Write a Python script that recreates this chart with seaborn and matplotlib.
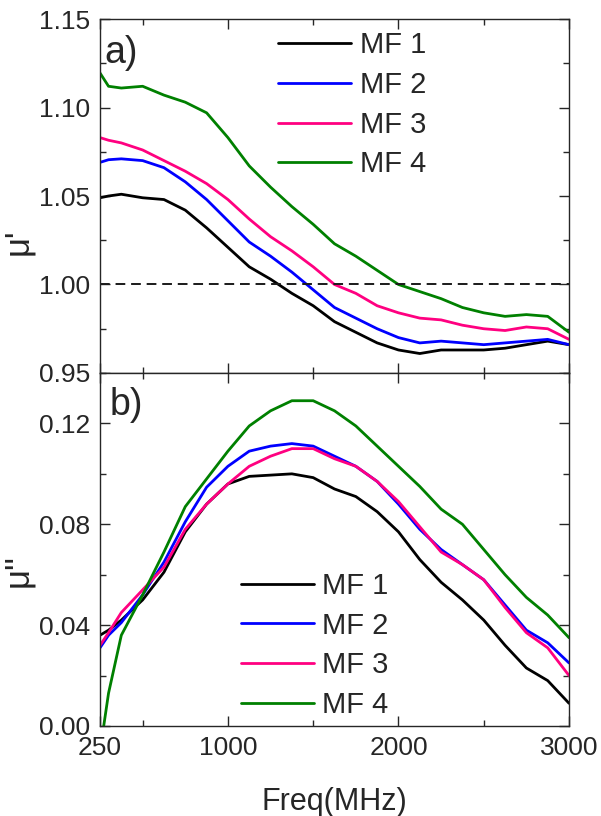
import pandas as pd
import matplotlib
matplotlib.use("Agg")
import matplotlib.pyplot as plt
import seaborn as sns
from matplotlib.ticker import MultipleLocator, FixedLocator, FormatStrFormatter

# frequency grid (MHz)
freq = [250, 300, 375, 500, 625, 750, 875, 1000, 1125, 1250, 1375, 1500, 1625,
        1750, 1875, 2000, 2125, 2250, 2375, 2500, 2625, 2750, 2875, 3000]

# real part mu'
mu1_mf1 = [1.049, 1.050, 1.051, 1.049, 1.048, 1.042, 1.032, 1.021, 1.010, 1.003, 0.995, 0.988,
           0.979, 0.973, 0.967, 0.963, 0.961, 0.963, 0.963, 0.963, 0.964, 0.966, 0.968, 0.966]
mu1_mf2 = [1.069, 1.0705, 1.071, 1.070, 1.066, 1.058, 1.048, 1.036, 1.024, 1.016, 1.007, 0.997,
           0.987, 0.981, 0.975, 0.970, 0.967, 0.968, 0.967, 0.966, 0.967, 0.968, 0.969, 0.966]
mu1_mf3 = [1.083, 1.0815, 1.080, 1.076, 1.070, 1.064, 1.057, 1.048, 1.037, 1.027, 1.019, 1.010,
           1.000, 0.995, 0.988, 0.984, 0.981, 0.980, 0.977, 0.975, 0.974, 0.976, 0.975, 0.969]
mu1_mf4 = [1.1195, 1.112, 1.111, 1.112, 1.107, 1.103, 1.097, 1.083, 1.067, 1.055, 1.044, 1.034,
           1.023, 1.016, 1.008, 1.000, 0.996, 0.992, 0.987, 0.984, 0.982, 0.983, 0.982, 0.973]

# imaginary part mu''
mu2_mf1 = [0.036, 0.038, 0.042, 0.050, 0.061, 0.077, 0.088, 0.096, 0.099, 0.0995, 0.100, 0.0985,
           0.094, 0.091, 0.085, 0.077, 0.066, 0.057, 0.050, 0.042, 0.032, 0.023, 0.018, 0.009]
mu2_mf2 = [0.031, 0.036, 0.041, 0.052, 0.065, 0.081, 0.0947, 0.103, 0.109, 0.111, 0.112, 0.111,
           0.107, 0.103, 0.097, 0.088, 0.078, 0.070, 0.064, 0.058, 0.048, 0.038, 0.033, 0.025]
mu2_mf3 = [0.032, 0.037, 0.045, 0.054, 0.063, 0.078, 0.088, 0.096, 0.103, 0.107, 0.110, 0.110,
           0.106, 0.103, 0.097, 0.089, 0.079, 0.069, 0.064, 0.058, 0.047, 0.037, 0.031, 0.020]
mu2_mf4 = [-0.010, 0.013, 0.036, 0.052, 0.069, 0.087, 0.098, 0.109, 0.119, 0.125, 0.129, 0.129,
           0.125, 0.119, 0.111, 0.103, 0.095, 0.086, 0.080, 0.070, 0.060, 0.051, 0.044, 0.035]

names = ["MF 1", "MF 2", "MF 3", "MF 4"]
colors = ["#000000", "#0000FF", "#FF0080", "#008000"]


def long_form(series):
    rows = []
    for name, vals in zip(names, series):
        for f, v in zip(freq, vals):
            rows.append({"freq": f, "val": v, "sample": name})
    return pd.DataFrame(rows)


df1 = long_form([mu1_mf1, mu1_mf2, mu1_mf3, mu1_mf4])
df2 = long_form([mu2_mf1, mu2_mf2, mu2_mf3, mu2_mf4])

sns.set_theme(style="ticks")
plt.rcParams["font.family"] = ["Liberation Sans", "DejaVu Sans"]
plt.rcParams["axes.linewidth"] = 1.0

fig = plt.figure(figsize=(6.01, 8.16), dpi=100)
ax1 = fig.add_axes([0.1664, 0.5429, 0.7804, 0.4338])
ax2 = fig.add_axes([0.1664, 0.1103, 0.7804, 0.4326])

pal = dict(zip(names, colors))
sns.lineplot(data=df1, x="freq", y="val", hue="sample", palette=pal, lw=2.0, ax=ax1)
sns.lineplot(data=df2, x="freq", y="val", hue="sample", palette=pal, lw=2.0, ax=ax2)
ax1.axhline(1.0, color="k", lw=1.4, dashes=(5, 3))

ax1.set_ylim(0.95, 1.15)
ax2.set_ylim(0.0, 0.14)
for ax in (ax1, ax2):
    ax.set_xlim(250, 3000)
    ax.xaxis.set_major_locator(FixedLocator([250, 1000, 2000, 3000]))
    ax.xaxis.set_minor_locator(FixedLocator([500, 1500, 2500]))
    ax.tick_params(which="both", direction="in", top=True, right=True, width=1.0,
                   labelsize=19, pad=7)
    ax.tick_params(which="major", length=7)
    ax.tick_params(which="minor", length=4)
    ax.yaxis.set_major_formatter(FormatStrFormatter("%.2f"))
    ax.set_xlabel("")

ax1.yaxis.set_major_locator(MultipleLocator(0.05))
ax1.yaxis.set_minor_locator(MultipleLocator(0.025))
ax2.yaxis.set_major_locator(MultipleLocator(0.04))
ax2.yaxis.set_minor_locator(MultipleLocator(0.02))
ax1.tick_params(labelbottom=False)

ax1.set_ylabel("μ'", fontsize=25)
ax2.set_ylabel("μ''", fontsize=25)
ax1.yaxis.set_label_coords(-0.14, 0.37)
ax2.yaxis.set_label_coords(-0.14, 0.44)
ax2.set_xlabel("Freq(MHz)", fontsize=22, labelpad=20)

ax1.text(0.01, 0.955, "a)", transform=ax1.transAxes, fontsize=27, va="top", ha="left")
ax2.text(0.02, 0.96, "b)", transform=ax2.transAxes, fontsize=27, va="top", ha="left")

leg_kw = dict(frameon=False, fontsize=21, handlelength=2.5, handletextpad=0.3,
              labelspacing=0.4, borderpad=0, borderaxespad=0)
ax1.legend(loc="upper left", bbox_to_anchor=(0.38, 0.965), **leg_kw)
ax2.legend(loc="lower left", bbox_to_anchor=(0.30, 0.02), **leg_kw)
for leg in (ax1.get_legend(), ax2.get_legend()):
    for line in leg.get_lines():
        line.set_linewidth(2.0)

fig.savefig("out.png", dpi=100)
